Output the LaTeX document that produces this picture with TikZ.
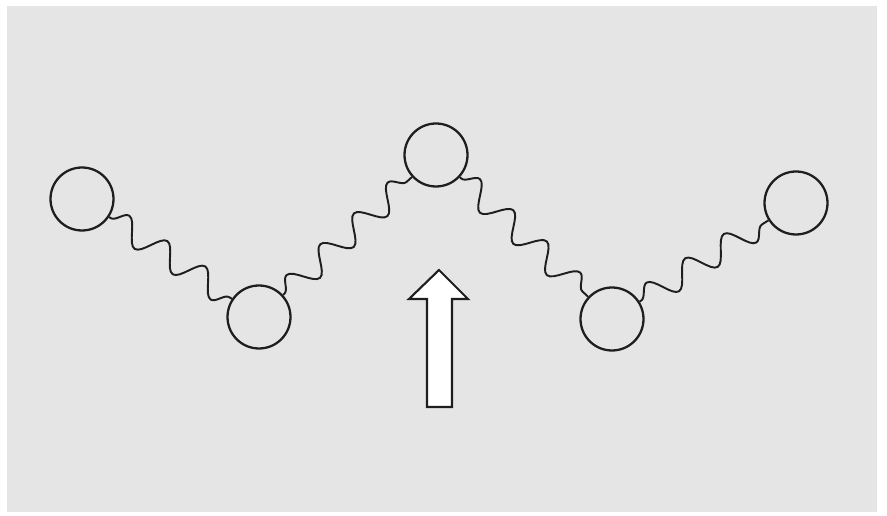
\documentclass[tikz,border=0pt]{standalone}
\usepackage{tikz}
\usepackage{xcolor}
\usetikzlibrary{decorations.pathmorphing}
\definecolor{paper}{HTML}{E5E5E5}
\definecolor{ink}{HTML}{1E1E1E}
\tikzset{
  bead/.style={draw=ink, circle, line width=1.3pt, minimum size=1.26cm, inner sep=0pt},
  spring/.style={draw=ink, line width=1.1pt, decorate,
                 decoration={snake, segment length=26pt, amplitude=7pt,
                             pre length=1pt, post length=1pt}},
  pusher/.style={draw=ink, fill=white, line width=1.2pt, line join=miter}
}
\begin{document}
\begin{tikzpicture}[x=0.02cm,y=-0.02cm]
        \useasboundingbox (0,0) rectangle (887,516);
        % backdrop
        \fill[paper] (7,6) rectangle (877,512);
        % beads of the chain
        \node[bead] (b1) at (82,199) {};
        \node[bead] (b2) at (259,317) {};
        \node[bead] (b3) at (436,155) {};
        \node[bead] (b4) at (612,319) {};
        \node[bead] (b5) at (796,203) {};
        % springs between neighbours
        \foreach \a/\b in {b1/b2,b2/b3,b3/b4,b4/b5} {
          \draw[spring] (\a) -- (\b);
        }
        % push from below
        \draw[pusher] (427,407) -- (427,299) -- (409,299) -- (439,270)
          -- (468,299) -- (452,299) -- (452,407) -- cycle;
      \end{tikzpicture}
\end{document}
